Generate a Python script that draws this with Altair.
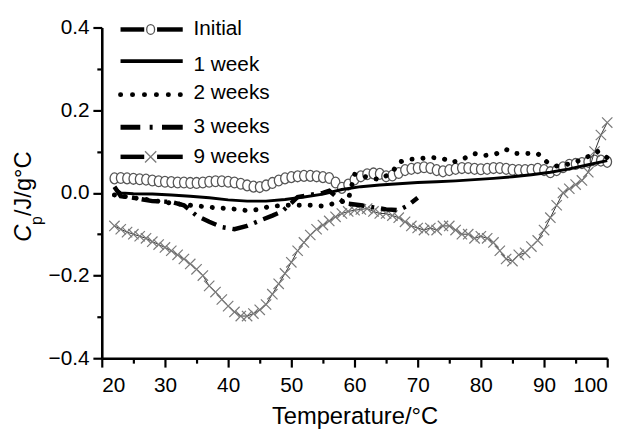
import altair as alt
import pandas as pd

# ---------------- data ----------------
initial_t = list(range(22, 101))
initial_cp = [0.035, 0.036, 0.035, 0.034, 0.033, 0.032, 0.030, 0.028, 0.027, 0.026,
              0.025, 0.025, 0.024, 0.024, 0.025, 0.027, 0.028, 0.028, 0.027, 0.025,
              0.022, 0.018, 0.015, 0.014, 0.018, 0.024, 0.030, 0.035, 0.038, 0.040,
              0.041, 0.041, 0.040, 0.038, 0.036, 0.025, 0.012, 0.020, 0.032, 0.040,
              0.045, 0.047, 0.046, 0.040, 0.042, 0.048, 0.055, 0.058, 0.060, 0.062,
              0.060, 0.055, 0.052, 0.055, 0.058, 0.060, 0.060, 0.058, 0.057, 0.058,
              0.060, 0.060, 0.058, 0.056, 0.055, 0.055, 0.056, 0.058, 0.055, 0.050,
              0.055, 0.062, 0.068, 0.070, 0.072, 0.075, 0.078, 0.078, 0.075]

week1_t = [22, 23, 25, 28, 31, 34, 37, 40, 43, 46, 49, 52, 55, 58, 61, 64, 67, 70,
           73, 76, 79, 82, 85, 88, 91, 94, 97, 100]
week1_cp = [0.012, 0.0, -0.002, -0.003, -0.005, -0.008, -0.012, -0.017, -0.020, -0.020,
            -0.016, -0.010, -0.003, 0.008, 0.015, 0.019, 0.022, 0.025, 0.027, 0.029,
            0.032, 0.035, 0.039, 0.044, 0.050, 0.058, 0.068, 0.078]

week2_t = [22, 25, 28, 31, 34, 36, 38, 40, 41.5, 43, 45, 46.5, 49, 51, 53, 55, 57, 59,
           60, 62, 64, 66, 67, 68.5, 70.5, 72, 74, 75.5, 77, 79, 80.5, 82.5, 84, 85.5,
           87.5, 89, 90.5, 92, 94, 96, 98.5, 100]
week2_cp = [-0.005, -0.012, -0.018, -0.025, -0.030, -0.033, -0.036, -0.038, -0.040, -0.043,
            -0.040, -0.033, -0.030, -0.030, -0.030, -0.032, -0.025, -0.018, 0.045, 0.038,
            0.032, 0.050, 0.074, 0.081, 0.083, 0.086, 0.083, 0.074, 0.081, 0.095,
            0.090, 0.095, 0.105, 0.095, 0.095, 0.095, 0.074, 0.065, 0.070, 0.080,
            0.100, 0.085]

week3_t = [22, 23, 25, 28, 31, 33, 35, 37, 39, 41, 43, 45.5, 47, 48.5, 50, 51, 53, 55,
           56, 57, 58.5, 61, 63, 65, 67, 68.5, 70]
week3_cp = [0.015, -0.008, -0.012, -0.020, -0.022, -0.030, -0.055, -0.070, -0.083, -0.088,
            -0.080, -0.064, -0.055, -0.045, -0.025, -0.010, -0.005, 0.0, 0.005, -0.008,
            -0.025, -0.030, -0.035, -0.040, -0.042, -0.030, -0.012]

week9_t = list(range(22, 101))
week9_cp = [-0.080, -0.088, -0.095, -0.100, -0.105, -0.110, -0.118, -0.125, -0.132, -0.140,
            -0.150, -0.160, -0.172, -0.185, -0.200, -0.225, -0.240, -0.258, -0.274, -0.288,
            -0.298, -0.298, -0.292, -0.283, -0.270, -0.245, -0.220, -0.195, -0.168, -0.140,
            -0.120, -0.102, -0.088, -0.078, -0.068, -0.058, -0.050, -0.045, -0.042, -0.040,
            -0.038, -0.045, -0.050, -0.050, -0.055, -0.060, -0.070, -0.080, -0.085, -0.090,
            -0.085, -0.090, -0.080, -0.080, -0.090, -0.100, -0.100, -0.110, -0.105, -0.110,
            -0.120, -0.140, -0.160, -0.165, -0.150, -0.145, -0.130, -0.115, -0.090, -0.060,
            -0.030, 0.000, 0.010, 0.020, 0.030, 0.050, 0.100, 0.140, 0.170]

x_major = [20, 30, 40, 50, 60, 70, 80, 90, 100]
x_minor = [25, 35, 45, 55, 65, 75, 85, 95]
y_major = [-0.4, -0.2, 0.0, 0.2, 0.4]
y_minor = [-0.3, -0.1, 0.1, 0.3]

legend_labels = ["Initial", "1 week", "2 weeks", "3 weeks", "9 weeks"]

# ---------------- chart ----------------
FONT = "Liberation Sans"
XSHAPE = "M-1,-1L1,1M-1,1L1,-1"
OSHAPE = "M0,-1A0.8,1 0 1,1 0,1A0.8,1 0 1,1 0,-1Z"

xs = alt.Scale(domain=[20, 100], nice=False, zero=False)
ys = alt.Scale(domain=[-0.4, 0.4], nice=False, zero=False)


def frame(t, cp):
    return pd.DataFrame({"t": t, "cp": cp})


def enc():
    return dict(x=alt.X("t:Q", scale=xs, axis=None),
                y=alt.Y("cp:Q", scale=ys, axis=None))


axis_df = frame([20, 100], [-0.4, 0.4])
common_axis = dict(domainColor="black", tickColor="black", labelColor="black",
                   labelFont=FONT, titleFont=FONT, grid=False)

major = alt.Chart(axis_df).mark_point(opacity=0).encode(
    x=alt.X("t:Q", scale=xs, axis=alt.Axis(
        orient="bottom", values=x_major, format="d", title="Temperature/°C",
        tickSize=9, tickWidth=2.2, domainWidth=2.6, labelFontSize=21,
        labelPadding=8, titleFontSize=24, titleFontWeight="normal",
        titlePadding=9, titleColor="black", **common_axis)),
    y=alt.Y("cp:Q", scale=ys, axis=alt.Axis(
        orient="left", values=y_major, format=".1f", title=None,
        tickSize=9, tickWidth=2.2, domainWidth=2.6, labelFontSize=21,
        labelPadding=4, **common_axis)),
)
minor = alt.Chart(axis_df).mark_point(opacity=0).encode(
    x=alt.X("t:Q", scale=xs, axis=alt.Axis(
        orient="bottom", values=x_minor, labels=False, domain=False, title=None,
        tickSize=5, tickWidth=2.2, **common_axis)),
    y=alt.Y("cp:Q", scale=ys, axis=alt.Axis(
        orient="left", values=y_minor, labels=False, domain=False, title=None,
        tickSize=5, tickWidth=2.2, **common_axis)),
)

initial_pts = alt.Chart(frame(initial_t, initial_cp)).mark_point(
    shape=OSHAPE, size=121, filled=True, fill="white", stroke="#555",
    strokeWidth=1.3, opacity=1).encode(**enc())

w9_line = alt.Chart(frame(week9_t, week9_cp)).mark_line(
    color="#333", strokeWidth=1).encode(**enc())
w9_pts = alt.Chart(frame(week9_t, week9_cp)).mark_point(
    shape=XSHAPE, size=110, filled=False, color="#7a7a7a", strokeWidth=1.2,
    opacity=1).encode(**enc())

w1 = alt.Chart(frame(week1_t, week1_cp)).mark_line(
    color="black", strokeWidth=3).encode(**enc())
w2 = alt.Chart(frame(week2_t, week2_cp)).mark_line(
    color="black", strokeWidth=5, strokeDash=[0.1, 11], strokeCap="round").encode(**enc())
w3 = alt.Chart(frame(week3_t, week3_cp)).mark_line(
    color="black", strokeWidth=4.5, strokeDash=[16, 7, 3, 7]).encode(**enc())

# ---------------- legend (pixel positions in plot area) ----------------
one = pd.DataFrame({"a": [0]})


def rule(x1, x2, y, **style):
    return alt.Chart(one).mark_rule(color="black", **style).encode(
        x=alt.value(x1), x2=alt.value(x2), y=alt.value(y))


def label(txt, y):
    return alt.Chart(one).mark_text(
        align="left", baseline="middle", font=FONT, fontSize=21, color="black").encode(
        x=alt.value(93), y=alt.value(y), text=alt.value(txt))


lg_line_y = [2, 34, 68, 101, 131]
lg_text_y = [2, 38, 66, 101, 131]

legend = [
    rule(19, 43, lg_line_y[0], strokeWidth=4.5),
    rule(56, 82, lg_line_y[0], strokeWidth=4.5),
    alt.Chart(one).mark_point(shape=OSHAPE, size=100, filled=True, fill="white",
                              stroke="#555", strokeWidth=1.3, opacity=1).encode(
        x=alt.value(49.5), y=alt.value(lg_line_y[0])),
    rule(19, 82, lg_line_y[1], strokeWidth=3.8),
    rule(19, 82, lg_line_y[2], strokeWidth=5, strokeDash=[0.1, 12], strokeCap="round"),
    rule(19, 82, lg_line_y[3], strokeWidth=5, strokeDash=[20, 9.5, 3, 9.5, 23, 50]),
    rule(19, 43, lg_line_y[4], strokeWidth=4.5),
    rule(56, 82, lg_line_y[4], strokeWidth=4.5),
    alt.Chart(one).mark_point(shape=XSHAPE, size=130, filled=False, color="#7a7a7a",
                              strokeWidth=1.3, opacity=1).encode(
        x=alt.value(49.5), y=alt.value(lg_line_y[4])),
]
legend += [label(t, y) for t, y in zip(legend_labels, lg_text_y)]

# ---------------- y-axis title: italic C, subscript p ----------------
ytitle = [
    alt.Chart(one).mark_text(align="left", baseline="middle", angle=270, font=FONT,
                             fontSize=24, fontStyle="italic", color="black").encode(
        x=alt.value(-79), y=alt.value(217), text=alt.value("C")),
    alt.Chart(one).mark_text(align="left", baseline="middle", angle=270, font=FONT,
                             fontSize=16, color="black").encode(
        x=alt.value(-66), y=alt.value(200), text=alt.value("p")),
    alt.Chart(one).mark_text(align="left", baseline="middle", angle=270, font=FONT,
                             fontSize=24, color="black").encode(
        x=alt.value(-79), y=alt.value(191), text=alt.value("/J/g°C")),
]

chart = alt.layer(
    major, minor, initial_pts, w9_line, w9_pts, w1, w2, w3, *legend, *ytitle
).resolve_axis(x="independent", y="independent").properties(
    width=512, height=335,
    padding={"left": 95, "top": 17, "right": 17, "bottom": 73},
    autosize=alt.AutoSizeParams(type="none"),
).configure_view(stroke=None)

chart.save("out.html", embed_options={"renderer": "svg", "actions": False})
